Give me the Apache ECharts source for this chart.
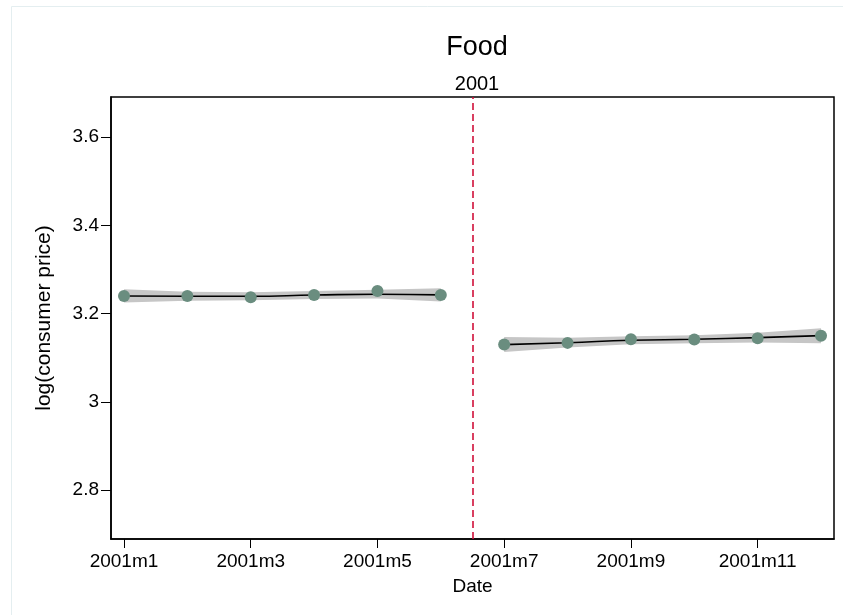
<!DOCTYPE html>
<html>
<head>
<meta charset="utf-8">
<script src="https://cdn.jsdelivr.net/npm/echarts@6/dist/echarts.min.js"></script>
<style>html,body{margin:0;padding:0;background:#fff}#c{width:843px;height:615px}</style>
</head>
<body>
<div id="c"></div>
<script>
// months indexed from 0 = 2001m1
var monthsLeft = [0, 1, 2, 3, 4, 5];
var monthsRight = [6, 7, 8, 9, 10, 11];
var obsLeft = [3.2397, 3.2397, 3.2370, 3.2420, 3.2510, 3.2420];
var obsRight = [3.1300, 3.1336, 3.1418, 3.1411, 3.1440, 3.1500];
var fitLeft = [3.2400, 3.2393, 3.2392, 3.2420, 3.2440, 3.2425];
var fitRight = [3.1297, 3.1340, 3.1395, 3.1418, 3.1456, 3.1500];
var ciHalfLeft = [0.015, 0.010, 0.009, 0.009, 0.010, 0.015];
var ciHalfRight = [0.017, 0.011, 0.009, 0.009, 0.011, 0.017];
var xTickValues = [0, 2, 4, 6, 8, 10];
var xTickLabels = ['2001m1', '2001m3', '2001m5', '2001m7', '2001m9', '2001m11'];
var yTickValues = [2.8, 3, 3.2, 3.4, 3.6];
var cutoff = 5.5;

var FONT = 'Liberation Sans, Arial, Helvetica, sans-serif';
function pairs(xs, ys) { return xs.map(function (x, i) { return [x, ys[i]]; }); }

var segments = [
  { x: monthsLeft, fit: fitLeft, half: ciHalfLeft },
  { x: monthsRight, fit: fitRight, half: ciHalfRight }
];

var series = [];
series.push({
  type: 'custom', silent: true, z: 1,
  data: [[monthsLeft[0], fitLeft[0], 0], [monthsRight[0], fitRight[0], 1]],
  encode: { x: 0, y: 1 },
  renderItem: function (params, api) {
    var seg = segments[api.value(2)];
    var pts = [];
    for (var i = 0; i < seg.x.length; i++) pts.push(api.coord([seg.x[i], seg.fit[i] + seg.half[i]]));
    for (var j = seg.x.length - 1; j >= 0; j--) pts.push(api.coord([seg.x[j], seg.fit[j] - seg.half[j]]));
    return { type: 'polygon', shape: { points: pts }, style: { fill: '#c6c6c6', stroke: null } };
  }
});
segments.forEach(function (s) {
  series.push({
    type: 'line', data: pairs(s.x, s.fit), smooth: true, symbol: 'none',
    lineStyle: { color: '#000', width: 1.6 }, z: 2
  });
});
series.push({
  type: 'scatter', data: pairs(monthsLeft, obsLeft).concat(pairs(monthsRight, obsRight)), symbolSize: 12,
  itemStyle: { color: '#6a8d7f', opacity: 1 }, z: 3
});
series.push({
  type: 'line', data: [], markLine: {
    silent: true, symbol: 'none', label: { show: false },
    lineStyle: { color: '#d0103a', type: [7, 4], width: 1.6 },
    data: [{ xAxis: cutoff }]
  }
});

var chart = echarts.init(document.getElementById('c'), null, { renderer: 'canvas' });
chart.setOption({
  animation: false,
  backgroundColor: '#ffffff',
  textStyle: { fontFamily: FONT },
  title: [
    { text: 'Food', left: 472, top: 29, textAlign: 'center',
      textStyle: { fontFamily: FONT, fontSize: 27, fontWeight: 'normal', color: '#000' } },
    { text: '2001', left: 472, top: 69, textAlign: 'center',
      textStyle: { fontFamily: FONT, fontSize: 20, fontWeight: 'normal', color: '#000' } }
  ],
  graphic: [{
    type: 'rect', shape: { x: 11.5, y: 6.5, width: 900, height: 700 },
    style: { fill: 'none', stroke: '#e4eef0', lineWidth: 1 }, silent: true
  }],
  grid: { left: 111, right: 9, top: 97, bottom: 76, show: true, borderColor: '#000', borderWidth: 1.5, backgroundColor: 'transparent' },
  xAxis: {
    type: 'value', min: -0.205, max: 11.205,
    name: 'Date', nameLocation: 'middle', nameGap: 38,
    nameTextStyle: { fontFamily: FONT, fontSize: 19, color: '#000' },
    axisLine: { show: true, onZero: false, lineStyle: { color: '#000', width: 1.5 } },
    axisTick: { show: true, length: 9, customValues: xTickValues, lineStyle: { color: '#000', width: 1 } },
    axisLabel: {
      customValues: xTickValues, fontFamily: FONT, fontSize: 19, color: '#000', margin: 13,
      formatter: function (v) { var i = xTickValues.indexOf(Math.round(v)); return i >= 0 ? xTickLabels[i] : ''; }
    },
    splitLine: { show: false }
  },
  yAxis: {
    type: 'value', min: 2.689, max: 3.691,
    name: 'log(consumer price)', nameLocation: 'middle', nameGap: 56, nameRotate: 90,
    nameTextStyle: { fontFamily: FONT, fontSize: 21, color: '#000' },
    axisLine: { show: true, onZero: false, lineStyle: { color: '#000', width: 1.5 } },
    axisTick: { show: true, length: 10, customValues: yTickValues, lineStyle: { color: '#000', width: 1 } },
    axisLabel: {
      customValues: yTickValues, fontFamily: FONT, fontSize: 19, color: '#000', margin: 12,
      formatter: function (v) { return String(Math.round(v * 10) / 10); }
    },
    splitLine: { show: false }
  },
  series: series
});
</script>
</body>
</html>
